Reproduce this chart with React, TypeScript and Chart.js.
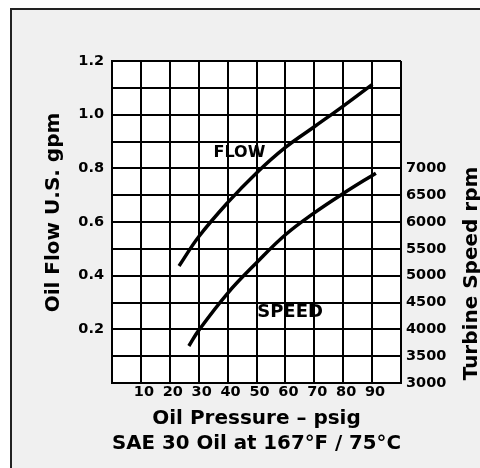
import React, { useEffect, useRef } from 'react';
import { Chart, registerables } from 'chart.js';

Chart.register(...registerables);

// X axis: oil pressure (psig)
const pressureTicks = [10, 20, 30, 40, 50, 60, 70, 80, 90];
// FLOW curve: pressure (psig) vs oil flow (U.S. gpm)
const flowPressure = [23.2, 30, 40, 50, 60, 70, 80, 90.1];
const flowGpm = [0.436, 0.545, 0.672, 0.783, 0.878, 0.955, 1.032, 1.113];
// SPEED curve: pressure (psig) vs turbine speed (rpm)
const speedPressure = [26.6, 30, 40, 50, 60, 70, 80, 91.3];
const speedRpm = [3690, 3980, 4672, 5240, 5762, 6170, 6530, 6910];
// Left axis labels (gpm) and right axis labels (rpm)
const flowTickLabels = [0.2, 0.4, 0.6, 0.8, 1.0, 1.2];
const speedTickLabels = [3000, 3500, 4000, 4500, 5000, 5500, 6000, 6500, 7000];
// Curve labels, placed in data coordinates
const flowLabel = { text: 'FLOW', x: 44.1, y: 0.859 };
const speedLabel = { text: 'SPEED', x: 61.6, y: 4318 };

const FONT = '"DejaVu Sans", "Liberation Sans", sans-serif';

const decorPlugin = {
  id: 'decor',
  beforeDraw(chart: any) {
    const { ctx, chartArea, width, height } = chart;
    ctx.save();
    ctx.fillStyle = '#ffffff';
    ctx.fillRect(0, 0, width, height);
    ctx.fillStyle = '#f0f0f0';
    ctx.fillRect(11, 9, width, height);
    ctx.strokeStyle = '#222222';
    ctx.lineWidth = 2;
    ctx.strokeRect(11, 9, width + 10, height + 10);
    ctx.fillStyle = '#ffffff';
    ctx.fillRect(chartArea.left, chartArea.top, chartArea.right - chartArea.left, chartArea.bottom - chartArea.top);
    ctx.restore();
  },
  afterDraw(chart: any) {
    const { ctx, scales } = chart;
    ctx.save();
    ctx.fillStyle = '#000000';
    ctx.textAlign = 'center';
    ctx.textBaseline = 'middle';
    ctx.font = `bold 16px ${FONT}`;
    ctx.fillText(flowLabel.text, scales.x.getPixelForValue(flowLabel.x), scales.y.getPixelForValue(flowLabel.y));
    ctx.font = `bold 18px ${FONT}`;
    ctx.fillText(speedLabel.text, scales.x.getPixelForValue(speedLabel.x), scales.y1.getPixelForValue(speedLabel.y));

    ctx.font = `bold 20px ${FONT}`;
    ctx.textBaseline = 'alphabetic';
    ctx.save();
    ctx.translate(58.5, 212.5);
    ctx.rotate(-Math.PI / 2);
    ctx.fillText('Oil Flow U.S. gpm', 0, 0);
    ctx.restore();
    ctx.save();
    ctx.translate(477, 273.5);
    ctx.rotate(-Math.PI / 2);
    ctx.fillText('Turbine Speed rpm', 0, 0);
    ctx.restore();
    ctx.restore();
  },
};

export default function App() {
  const ref = useRef<HTMLCanvasElement | null>(null);

  useEffect(() => {
    if (!ref.current) return;
    const tickFont = { family: FONT, size: 14.5, weight: 'bold' as const };
    const chart = new Chart(ref.current, {
      type: 'line',
      data: {
        datasets: [
          {
            label: 'FLOW',
            data: flowPressure.map((p, i) => ({ x: p, y: flowGpm[i] })),
            yAxisID: 'y',
            borderColor: '#000000',
            borderWidth: 3.5,
            pointRadius: 0,
            tension: 0.4,
            fill: false,
          },
          {
            label: 'SPEED',
            data: speedPressure.map((p, i) => ({ x: p, y: speedRpm[i] })),
            yAxisID: 'y1',
            borderColor: '#000000',
            borderWidth: 3.5,
            pointRadius: 0,
            tension: 0.4,
            fill: false,
          },
        ],
      },
      options: {
        responsive: false,
        animation: false,
        layout: { padding: { top: 61, left: 0, right: 0, bottom: 0 } },
        plugins: {
          legend: { display: false },
          tooltip: { enabled: false },
        },
        scales: {
          x: {
            type: 'linear',
            position: 'bottom',
            min: 0,
            max: 100,
            afterFit: (s: any) => { s.height = 85; },
            grid: { color: '#000000', lineWidth: 2, drawTicks: false },
            border: { color: '#000000', width: 2 },
            ticks: {
              stepSize: 10,
              padding: 1,
              labelOffset: 3,
              color: '#000000',
              font: tickFont,
              maxRotation: 0,
              autoSkip: false,
              callback: (v: any) => (pressureTicks.includes(Number(v)) ? String(v) : ''),
            },
            title: {
              display: true,
              text: ['Oil Pressure – psig', 'SAE 30 Oil at 167°F / 75°C'],
              color: '#000000',
              font: { family: FONT, size: 20, weight: 'bold', lineHeight: 1.25 },
              padding: { top: 0, bottom: 11.5 },
            },
          },
          y: {
            type: 'linear',
            position: 'left',
            min: 0,
            max: 1.2,
            afterFit: (s: any) => { s.width = 112; },
            grid: { color: '#000000', lineWidth: 2, drawTicks: false },
            border: { color: '#000000', width: 2 },
            ticks: {
              stepSize: 0.1,
              padding: 8,
              color: '#000000',
              font: tickFont,
              autoSkip: false,
              callback: (v: any) => {
                const n = Math.round(Number(v) * 10) / 10;
                return flowTickLabels.some((t) => Math.abs(t - n) < 1e-6) ? n.toFixed(1) : '';
              },
            },
          },
          y1: {
            type: 'linear',
            position: 'right',
            min: 3000,
            max: 9000,
            afterFit: (s: any) => { s.width = 79; },
            grid: { drawOnChartArea: false, drawTicks: false },
            border: { display: false },
            ticks: {
              stepSize: 500,
              padding: 5,
              color: '#000000',
              font: tickFont,
              autoSkip: false,
              callback: (v: any) => (speedTickLabels.includes(Math.round(Number(v))) ? String(Math.round(Number(v))) : ''),
            },
          },
        },
      },
      plugins: [decorPlugin],
    } as any);
    return () => chart.destroy();
  }, []);

  return (
    <div style={{ position: 'fixed', left: 0, top: 0, width: 480, height: 468 }}>
      <canvas ref={ref} width={480} height={468} style={{ display: 'block' }} />
    </div>
  );
}
